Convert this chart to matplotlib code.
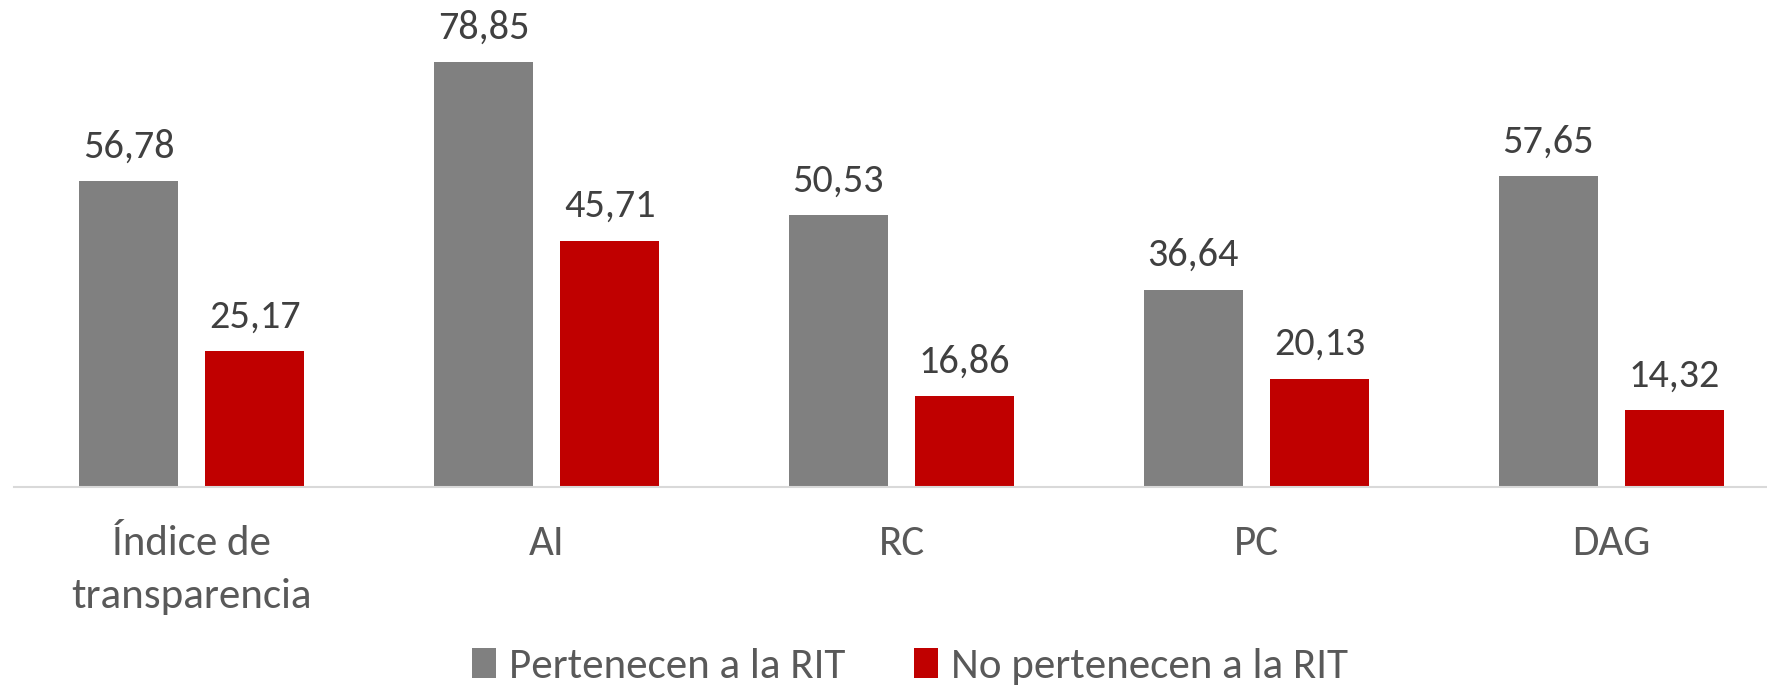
import numpy as np
import matplotlib.pyplot as plt

plt.rcParams['font.family'] = ['Carlito', 'Open Sans', 'DejaVu Sans']

categories = ['Índice de\ntransparencia', 'AI', 'RC', 'PC', 'DAG']
rit = [56.78, 78.85, 50.53, 36.64, 57.65]
no_rit = [25.17, 45.71, 16.86, 20.13, 14.32]
labels = ['Pertenecen a la RIT', 'No pertenecen a la RIT']

gray = '#808080'
red = '#C00000'

fig = plt.figure(figsize=(17.67, 6.89), dpi=100)
ax = fig.add_axes([0.008, 0.293, 0.992, 0.707])

x = np.arange(len(categories))
w = 0.28
off = 0.178
b1 = ax.bar(x - off, rit, w, color=gray, label=labels[0])
b2 = ax.bar(x + off, no_rit, w, color=red, label=labels[1])

for bars, vals in [(b1, rit), (b2, no_rit)]:
    for rect, v in zip(bars, vals):
        ax.annotate(f'{v:.2f}'.replace('.', ','),
                    (rect.get_x() + rect.get_width() / 2, rect.get_height()),
                    xytext=(0, 17), textcoords='offset points',
                    ha='center', va='baseline', fontsize=29, color='#404040')

ax.set_xlim(-0.5, -0.5 + (1568 - 12.5) / 315)
ax.set_ylim(0, 90.4)
ax.set_xticks(x)
ax.set_xticklabels(categories, fontsize=31, color='#595959', linespacing=1.55)
ax.tick_params(axis='x', length=0, pad=27)
ax.set_yticks([])
for s in ['top', 'right', 'left']:
    ax.spines[s].set_visible(False)
ax.spines['bottom'].set_color('#D9D9D9')
ax.spines['bottom'].set_linewidth(1.5)

fig.legend(loc='center', bbox_to_anchor=(0.515, 0.033), ncol=2, frameon=False,
           fontsize=31, labelcolor='#595959', handlelength=0.55, handleheight=0.7,
           handletextpad=0.3, columnspacing=1.6)

fig.savefig('out.png', dpi=100)
